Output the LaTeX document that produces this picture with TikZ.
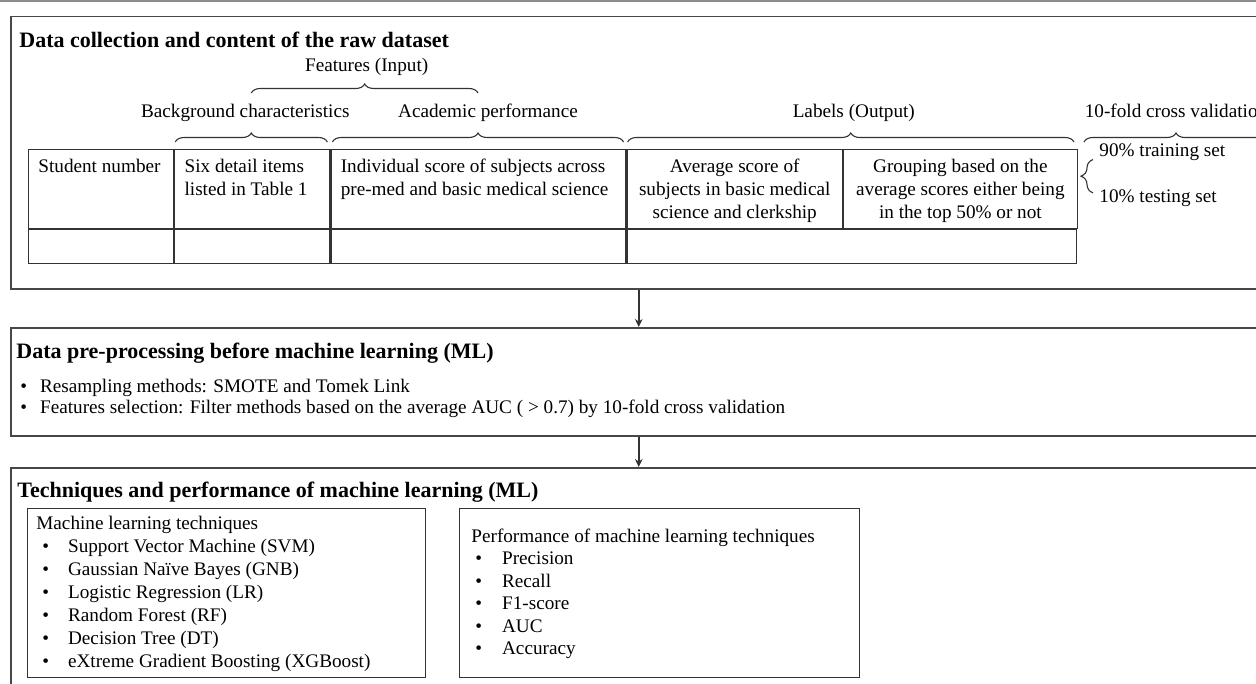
\documentclass[tikz,border=0pt]{standalone}
\usepackage{fontspec}
\setmainfont{Liberation Serif}
\usetikzlibrary{decorations.pathreplacing,arrows.meta,positioning}
\newcommand{\PX}[0]{0.5pt}
\newcommand{\FRAME}[0]{black!72}
\newcommand{\RULE}[0]{black!80}

\tikzset{
  panel/.style={draw=\FRAME, line width=0.75pt, anchor=north west, inner sep=0pt},
  cell/.style={draw=\RULE, line width=0.6pt, anchor=north west, inner sep=0pt},
  heading/.style={font=\bfseries\fontsize{11}{13}\selectfont, anchor=west, inner sep=0pt},
  body/.style={font=\fontsize{9.6}{11.5}\selectfont, inner sep=0pt},
  brc/.style={draw=\RULE, line width=0.55pt, decorate, decoration={brace, amplitude=4.5pt}},
  flow/.style={draw=\RULE, line width=0.75pt, -{Stealth[length=4pt, width=3.8pt]}},
}

\begin{document}
\begin{tikzpicture}[x=\PX, y=-\PX]

  \clip (0,0) rectangle (1256,684);
  \draw[black!45, line width=0.8pt] (0,1) -- (1256,1);

  %% panels
  \node[panel, minimum width=1256*\PX, minimum height=272*\PX] (collect) at (10,16) {};
  \node[panel, minimum width=1256*\PX, minimum height=108*\PX] (prep) at (10,327) {};
  \node[panel, minimum width=1256*\PX, minimum height=240*\PX] (tech) at (10,467) {};

  \draw[flow] (collect.south) -- (prep.north);
  \draw[flow] (prep.south) -- (tech.north);

  \node[heading] (collecttitle) at (19,40) {Data collection and content of the raw dataset};
  \node[heading] (preptitle) at (16,353) {Data pre-processing before machine learning (ML)};
  \node[heading] (techtitle) at (17,492) {Techniques and performance of machine learning (ML)};

  %% raw dataset table
  \node[cell, minimum width=145*\PX, minimum height=79*\PX] (sn) at (28,149) {};
  \node[cell, minimum width=155*\PX, minimum height=79*\PX] (bg) at (sn.north east) {};
  \node[cell, minimum width=295*\PX, minimum height=79*\PX] (ap) at (bg.north east) {};
  \node[cell, minimum width=215*\PX, minimum height=79*\PX] (avg) at (ap.north east) {};
  \node[cell, minimum width=234*\PX, minimum height=79*\PX] (grp) at (avg.north east) {};
  \node[cell, minimum width=145*\PX, minimum height=34*\PX] (snrow) at (sn.south west) {};
  \node[cell, minimum width=155*\PX, minimum height=34*\PX] (bgrow) at (bg.south west) {};
  \node[cell, minimum width=295*\PX, minimum height=34*\PX] (aprow) at (ap.south west) {};
  \node[cell, minimum width=449*\PX, minimum height=34*\PX] (labrow) at (avg.south west) {};

  \node[body, anchor=base west] (sntxt) at ([shift={(10,24)}]sn.north west) {Student number};
  \node[body, anchor=base west] (bgtxt) at ([shift={(10,24)}]bg.north west)
    {\begin{tabular}[t]{@{}l@{}}Six detail items\\listed in Table 1\end{tabular}};
  \node[body, anchor=base west] (aptxt) at ([shift={(10,24)}]ap.north west)
    {\begin{tabular}[t]{@{}l@{}}Individual score of subjects across\\pre-med and basic medical science\end{tabular}};
  \node[body, anchor=base] (avgtxt) at ([shift={(0,24)}]avg.north)
    {\begin{tabular}[t]{@{}c@{}}Average score of\\subjects in basic medical\\science and clerkship\end{tabular}};
  \node[body, anchor=base] (grptxt) at ([shift={(0,24)}]grp.north)
    {\begin{tabular}[t]{@{}c@{}}Grouping based on the\\average scores either being\\in the top 50\% or not\end{tabular}};

  %% braces over the columns
  \draw[brc] ([shift={(1,-7)}]bg.north west) -- coordinate (bgtip) ([shift={(-3,-7)}]bg.north east);
  \draw[brc] ([shift={(2,-7)}]ap.north west) -- coordinate (aptip) ([shift={(-3,-7)}]ap.north east);
  \draw[brc] ([shift={(1,-7)}]avg.north west) -- coordinate (labtip) ([shift={(-4,-7)}]grp.north east);
  \draw[brc] ([shift={(6,-7)}]grp.north east) -- coordinate (cvtip) ([shift={(190,-7)}]grp.north east);
  \draw[brc] ([shift={(0,-49)}]bgtip) -- coordinate (fttip) ([shift={(0,-49)}]aptip);

  \node[body, anchor=base] (bglab) at ([shift={(-6,-24)}]bgtip) {Background characteristics};
  \node[body, anchor=base] (aplab) at ([shift={(10,-24)}]aptip) {Academic performance};
  \node[body, anchor=base] (ftlab) at ([shift={(2,-21)}]fttip) {Features (Input)};
  \node[body, anchor=base] (lablab) at ([shift={(3,-24)}]labtip) {Labels (Output)};
  \node[body, anchor=base] (cvlab) at ([shift={(0,-24)}]cvtip) {10-fold cross validation};

  \node[body, anchor=base west] (train) at (1099,157) {90\% training set};
  \node[body, anchor=base west] (test) at (1099,203) {10\% testing set};
  \draw[brc, decoration={amplitude=6pt}] ([shift={(-6,3)}]test.north west) -- ([shift={(-6,-2)}]train.south west);

  %% pre-processing list
  \node[body, anchor=base west, font=\fontsize{9.6}{10.5}\selectfont] (preplist) at (20,392)
    {\begin{tabular}[t]{@{}l@{\hspace{6.5pt}}l@{}}
      \textbullet & Resampling methods: SMOTE and Tomek Link\\
      \textbullet & Features selection: Filter methods based on the average AUC ( > 0.7) by 10-fold cross validation
    \end{tabular}};

  %% technique and performance boxes
  \node[cell, minimum width=398*\PX, minimum height=169*\PX] (mlbox) at (27,508) {};
  \node[cell, minimum width=400*\PX, minimum height=169*\PX] (perfbox) at (459,508) {};

  \node[body, anchor=west] (mllist) at ([shift={(9,1)}]mlbox.west)
    {\begin{tabular}{@{\hspace{3pt}}l@{\hspace{9.5pt}}l@{}}
      \multicolumn{2}{@{}l@{}}{Machine learning techniques}\\
      \textbullet & Support Vector Machine (SVM)\\
      \textbullet & Gaussian Naïve Bayes (GNB)\\
      \textbullet & Logistic Regression (LR)\\
      \textbullet & Random Forest (RF)\\
      \textbullet & Decision Tree (DT)\\
      \textbullet & eXtreme Gradient Boosting (XGBoost)
    \end{tabular}};
  \node[body, anchor=west, font=\fontsize{9.6}{11.25}\selectfont] (perflist) at ([shift={(12,1)}]perfbox.west)
    {\begin{tabular}{@{\hspace{2pt}}l@{\hspace{10pt}}l@{}}
      \multicolumn{2}{@{}l@{}}{Performance of machine learning techniques}\\
      \textbullet & Precision\\
      \textbullet & Recall\\
      \textbullet & F1-score\\
      \textbullet & AUC\\
      \textbullet & Accuracy
    \end{tabular}};

\end{tikzpicture}
\end{document}
